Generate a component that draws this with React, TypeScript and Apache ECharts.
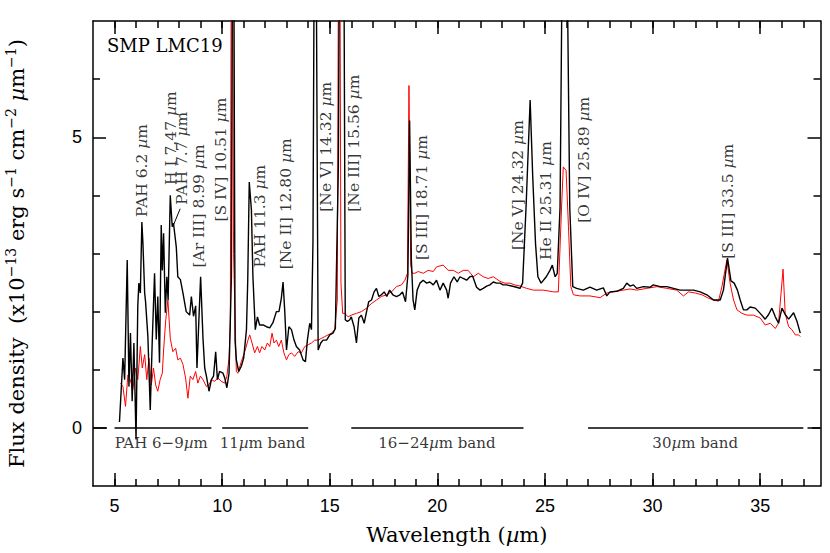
import React, { useEffect, useRef } from 'react';
import * as echarts from 'echarts';

// ---- Data (wavelength in micron, flux density in 1e-13 erg s^-1 cm^-2 um^-1) ----
const blackWave = [5.23,5.39,5.47,5.59,5.67,5.74,5.82,5.9,6.0,6.08,6.13,6.2,6.27,6.32,6.4,6.44,6.55,6.66,6.75,6.86,6.94,7.01,7.09,7.17,7.22,7.28,7.36,7.43,7.49,7.59,7.68,7.74,7.87,7.94,8.06,8.18,8.33,8.49,8.57,8.67,8.77,8.83,8.92,9.0,9.11,9.19,9.27,9.39,9.5,9.6,9.7,9.78,9.88,10.04,10.12,10.22,10.32,10.43,10.51,10.6,10.66,10.77,10.89,11.0,11.13,11.19,11.26,11.36,11.43,11.54,11.64,11.74,11.9,12.06,12.21,12.36,12.52,12.64,12.75,12.83,12.91,12.99,13.1,13.22,13.34,13.45,13.6,13.76,13.87,13.96,14.07,14.15,14.22,14.32,14.46,14.58,14.69,14.85,15.0,15.15,15.26,15.4,15.5,15.62,15.72,15.82,15.93,16.0,16.13,16.24,16.35,16.47,16.6,16.71,16.81,16.94,17.06,17.17,17.28,17.4,17.53,17.65,17.78,17.93,18.1,18.26,18.38,18.52,18.63,18.71,18.79,18.87,18.95,19.06,19.19,19.34,19.5,19.65,19.81,19.96,20.12,20.27,20.43,20.5,20.61,20.77,20.92,21.05,21.2,21.36,21.51,21.64,21.82,21.98,22.13,22.29,22.44,22.6,22.75,22.91,23.06,23.22,23.45,23.68,23.84,23.96,24.12,24.31,24.43,24.56,24.67,24.82,25.06,25.23,25.34,25.47,25.57,25.7,25.82,26.0,26.15,26.29,26.47,26.78,27.09,27.4,27.71,27.87,28.02,28.33,28.64,28.8,28.95,29.11,29.26,29.57,29.88,30.03,30.35,30.66,30.97,31.28,31.59,31.9,32.21,32.52,32.83,33.14,33.29,33.48,33.64,33.79,33.94,34.07,34.22,34.38,34.53,34.77,35.0,35.23,35.39,35.54,35.7,35.85,36.01,36.16,36.32,36.55,36.71,36.86];
const blackFlux = [0.1,1.2,0.83,2.89,0.71,1.63,0.46,1.46,-0.2,2.09,2.49,2.32,3.54,3.17,2.32,2.18,1.57,0.31,1.46,2.66,1.52,2.26,1.12,3.49,2.71,3.35,1.98,2.6,2.2,4.0,3.46,3.52,3.11,2.6,2.55,2.32,2.0,1.94,2.26,1.92,2.1,1.03,1.86,2.6,1.54,1.03,0.89,0.63,0.83,0.89,1.31,0.83,0.97,0.94,0.86,0.69,0.94,2.6,12,1.5,1.17,0.97,1.06,1.2,1.69,2.55,4.23,3.75,2.6,1.69,1.91,1.77,1.77,1.74,1.72,1.81,2.0,2.0,2.23,2.51,2.0,1.34,1.74,1.69,1.51,1.4,1.34,1.17,1.14,1.51,1.8,1.69,3.2,12,1.34,1.46,1.51,1.51,1.6,1.63,1.71,4.5,12,12,1.86,1.83,1.86,1.91,1.74,1.46,1.89,1.94,1.8,2.0,2.17,2.2,2.34,2.4,2.26,2.29,2.34,2.26,2.37,2.29,2.26,2.29,2.34,2.17,2.63,5.29,2.9,2.2,2.03,2.37,2.49,2.54,2.49,2.51,2.46,2.54,2.37,2.49,2.37,2.23,2.49,2.6,2.51,2.6,2.57,2.54,2.6,2.61,2.42,2.37,2.4,2.44,2.46,2.51,2.49,2.49,2.46,2.46,2.44,2.42,2.4,2.49,3.8,5.64,4.32,3.17,2.6,2.49,2.6,2.71,2.8,2.6,2.66,3.8,9,9,3.8,2.43,2.4,2.37,2.42,2.37,2.41,2.27,2.34,2.35,2.4,2.49,2.44,2.46,2.4,2.43,2.42,2.46,2.43,2.43,2.4,2.37,2.37,2.37,2.34,2.29,2.2,2.2,2.37,2.92,2.53,2.49,2.37,2.2,2.03,2.03,2.08,2.06,1.97,1.87,1.95,2.06,1.91,1.8,2.06,1.95,1.87,1.98,1.83,1.63];

const redWave = [5.28,5.39,5.51,5.62,5.73,5.85,5.98,6.08,6.2,6.29,6.4,6.5,6.6,6.71,6.81,6.91,7.01,7.12,7.22,7.28,7.38,7.48,7.59,7.71,7.84,7.94,8.06,8.18,8.3,8.41,8.52,8.64,8.77,8.87,8.99,9.11,9.27,9.39,9.5,9.65,9.8,9.96,10.12,10.22,10.32,10.38,10.45,10.53,10.66,10.73,10.89,11.05,11.2,11.28,11.39,11.51,11.64,11.74,11.85,11.98,12.1,12.21,12.32,12.41,12.52,12.63,12.75,12.87,12.99,13.1,13.22,13.37,13.53,13.68,13.84,14.0,14.15,14.3,14.46,14.61,14.77,14.92,15.08,15.23,15.35,15.44,15.52,15.6,15.7,15.85,16.0,16.24,16.47,16.71,16.94,17.17,17.4,17.64,17.87,18.1,18.33,18.49,18.61,18.68,18.76,18.83,18.95,19.11,19.34,19.57,19.81,19.96,20.27,20.5,20.74,20.97,21.2,21.43,21.67,21.9,22.13,22.36,22.6,22.91,23.14,23.37,23.6,23.84,24.15,24.46,24.92,25.39,25.62,25.77,25.85,25.98,26.09,26.2,26.32,26.63,27.09,27.56,27.87,28.18,28.64,28.95,29.26,29.73,30.2,30.66,31.12,31.43,31.67,31.98,32.29,32.6,32.83,33.06,33.22,33.45,33.6,33.76,33.92,34.15,34.38,34.69,35.0,35.23,35.47,35.7,35.85,36.06,36.16,36.32,36.47,36.63,36.78,36.86];
const redFlux = [0.77,0.71,0.37,0.91,0.83,0.66,1.03,0.83,1.4,1.03,1.26,0.83,1.2,0.74,1.03,0.74,0.63,0.83,0.94,1.34,1.86,2.2,1.54,1.31,1.37,1.17,1.2,1.09,0.86,0.51,0.89,0.83,0.97,0.77,0.89,0.83,0.71,0.74,0.83,0.8,0.86,0.8,0.77,0.89,1.2,1.8,12,3,0.97,0.94,1.14,1.31,1.51,1.6,1.46,1.29,1.4,1.29,1.4,1.34,1.46,1.4,1.63,1.46,1.51,1.4,1.51,1.29,1.17,1.26,1.29,1.23,1.31,1.29,1.4,1.43,1.46,1.51,1.51,1.54,1.57,1.6,1.63,1.69,2.2,12,2.5,1.97,1.97,1.91,1.94,1.97,2.0,2.06,2.14,2.2,2.26,2.29,2.34,2.43,2.46,2.54,2.66,5.89,2.8,2.66,2.66,2.69,2.66,2.71,2.69,2.77,2.8,2.71,2.71,2.66,2.71,2.71,2.6,2.66,2.6,2.57,2.6,2.52,2.49,2.49,2.46,2.44,2.4,2.37,2.37,2.34,2.34,3.8,4.49,4.43,3.46,2.43,2.29,2.27,2.27,2.24,2.32,2.34,2.37,2.39,2.37,2.4,2.43,2.4,2.37,2.27,2.34,2.32,2.29,2.23,2.2,2.18,2.43,2.89,2.49,2.2,2.03,1.97,1.94,1.94,1.89,1.77,1.8,1.71,1.8,2.73,1.97,1.74,1.69,1.6,1.6,1.57];

// Axis ticks
const xMajor = [5, 10, 15, 20, 25, 30, 35];
const xMinor = [5,6,7,8,9,10,11,12,13,14,15,16,17,18,19,20,21,22,23,24,25,26,27,28,29,30,31,32,33,34,35,36,37];
const yMajor = [0, 5];
const yMinor = [1, 2, 3, 4, 6];

// Spectral feature labels
const lineLabels = ['PAH 6.2 µm','H I 7.47 µm','PAH 7.7 µm','[Ar III] 8.99 µm','[S IV] 10.51 µm','PAH 11.3 µm','[Ne II] 12.80 µm','[Ne V] 14.32 µm','[Ne III] 15.56 µm','[S III] 18.71 µm','[Ne V] 24.32 µm','He II 25.31 µm','[O IV] 25.89 µm','[S III] 33.5 µm'];
const lineLabelX = [6.28, 7.64, 8.14, 8.93, 9.98, 11.79, 13.0, 14.86, 16.16, 19.33, 23.77, 25.07, 26.84, 33.51];
const lineLabelY = [3.62, 4.17, 3.83, 2.75, 3.54, 2.75, 2.72, 3.71, 3.71, 2.88, 3.05, 2.88, 3.52, 2.9];
const leaderX = [8.05, 7.75];
const leaderY = [3.77, 3.5];

// Bands along zero
const bandLabels = ['PAH 6−9µm', '11µm band', '16−24µm band', '30µm band'];
const bandCenter = [7.19, 11.9, 20.0, 32.0];
const bandStart = [4.0, 5.0, 10.0, 16.0, 27.0, 37.4];
const bandEnd = [4.65, 9.5, 14.0, 24.0, 37.0, 37.8];
const bandLabelY = -0.27;

const serif = 'DejaVu Serif';
const sans = 'Liberation Sans';

const withMu = (s: string) => s.replace('µ', '{mu|µ}');

export default function App() {
  const ref = useRef<HTMLDivElement>(null);
  useEffect(() => {
    const chart = echarts.init(ref.current!, null, { renderer: 'svg' });
    const axisLine = { show: true, onZero: false, lineStyle: { color: '#000', width: 1.5 } };
    const tickStyle = { color: '#000', width: 1.5 };
    const xBase = { type: 'value', min: 4, max: 37.8, splitLine: { show: false } };
    const yBase = { type: 'value', min: -1, max: 7, splitLine: { show: false } };
    const labelRich = { mu: { fontFamily: serif, fontStyle: 'italic', fontSize: 15.5, color: '#000' } };
    chart.setOption({
      animation: false,
      backgroundColor: '#fff',
      grid: { left: 93, right: 9.5, top: 21, bottom: 67, containLabel: false, outerBoundsMode: 'none' },
      xAxis: [
        {
          ...xBase, position: 'bottom', axisLine,
          axisTick: { show: true, inside: true, length: 13, customValues: xMajor, lineStyle: tickStyle },
          axisLabel: { show: true, customValues: xMajor, color: '#000', fontFamily: sans, fontSize: 18, margin: 11 },
          name: '{t|Wavelength (}{mu|µ}{t|m)}', nameLocation: 'middle', nameGap: 38,
          nameTextStyle: {
            fontFamily: serif, fontSize: 21, color: '#000',
            rich: { t: { fontFamily: serif, fontSize: 21, color: '#000' }, mu: { fontFamily: serif, fontStyle: 'italic', fontSize: 21, color: '#000' } },
          },
        },
        {
          ...xBase, position: 'bottom', axisLine: { show: false, onZero: false },
          axisTick: { show: true, inside: true, length: 7, customValues: xMinor, lineStyle: tickStyle },
          axisLabel: { show: false },
        },
        {
          ...xBase, position: 'top', axisLine,
          axisTick: { show: true, inside: true, length: 13, customValues: xMajor, lineStyle: tickStyle },
          axisLabel: { show: false },
        },
        {
          ...xBase, position: 'top', axisLine: { show: false, onZero: false },
          axisTick: { show: true, inside: true, length: 7, customValues: xMinor, lineStyle: tickStyle },
          axisLabel: { show: false },
        },
      ],
      yAxis: [
        {
          ...yBase, position: 'left', axisLine,
          axisTick: { show: true, inside: true, length: 13, customValues: yMajor, lineStyle: tickStyle },
          axisLabel: { show: true, customValues: yMajor, color: '#000', fontFamily: sans, fontSize: 18, margin: 11 },
          name: '{t|Flux density  (x10}{sup|−13}{t| erg s}{sup|−1}{t| cm}{sup|−2}{t| }{mu|µ}{t|m}{sup|−1}{t|)}',
          nameLocation: 'middle', nameGap: 63,
          nameTextStyle: {
            fontFamily: serif, fontSize: 21, color: '#000',
            rich: {
              t: { fontFamily: serif, fontSize: 21, color: '#000', lineHeight: 26 },
              mu: { fontFamily: serif, fontStyle: 'italic', fontSize: 21, color: '#000', lineHeight: 26 },
              sup: { fontFamily: serif, fontSize: 14, color: '#000', verticalAlign: 'top', lineHeight: 14 },
            },
          },
        },
        {
          ...yBase, position: 'left', axisLine: { show: false, onZero: false },
          axisTick: { show: true, inside: true, length: 7, customValues: yMinor, lineStyle: tickStyle },
          axisLabel: { show: false },
        },
        {
          ...yBase, position: 'right', axisLine,
          axisTick: { show: true, inside: true, length: 13, customValues: yMajor, lineStyle: tickStyle },
          axisLabel: { show: false },
        },
        {
          ...yBase, position: 'right', axisLine: { show: false, onZero: false },
          axisTick: { show: true, inside: true, length: 7, customValues: yMinor, lineStyle: tickStyle },
          axisLabel: { show: false },
        },
      ],
      graphic: [
        {
          type: 'text', left: 107, top: 36, z: 100,
          style: { text: 'SMP LMC19', fontFamily: serif, fontSize: 18, fill: '#000' },
        },
      ],
      series: [
        {
          type: 'line', name: 'comparison', xAxisIndex: 0, yAxisIndex: 0,
          data: redWave.map((w, i) => [w, redFlux[i]]),
          showSymbol: false, symbol: 'none', clip: true,
          lineStyle: { color: '#ff0000', width: 1 }, z: 2,
        },
        {
          type: 'line', name: 'SMP LMC19', xAxisIndex: 0, yAxisIndex: 0,
          data: blackWave.map((w, i) => [w, blackFlux[i]]),
          showSymbol: false, symbol: 'none', clip: true,
          lineStyle: { color: '#000', width: 1.4 }, z: 3,
        },
        {
          type: 'line', name: 'bands', xAxisIndex: 0, yAxisIndex: 0, data: [],
          markLine: {
            silent: true, symbol: ['none', 'none'], animation: false,
            label: { show: false },
            lineStyle: { color: '#000', width: 1.5, type: 'solid' },
            data: bandStart.map((s, i) => [{ coord: [s, 0] }, { coord: [bandEnd[i], 0] }]),
          },
        },
        {
          type: 'line', name: 'leader', xAxisIndex: 0, yAxisIndex: 0,
          data: leaderX.map((x, i) => [x, leaderY[i]]),
          showSymbol: false, symbol: 'none', lineStyle: { color: '#000', width: 1 }, z: 4,
        },
        {
          type: 'scatter', name: 'bandLabels', xAxisIndex: 0, yAxisIndex: 0,
          symbolSize: 1, itemStyle: { color: 'rgba(0,0,0,0)' }, z: 5,
          data: bandCenter.map((x, i) => ({ value: [x, bandLabelY], name: bandLabels[i] })),
          label: {
            show: true, position: [0, 0], align: 'center', verticalAlign: 'middle',
            formatter: (p: any) => withMu(p.name),
            fontFamily: serif, fontSize: 15, color: '#000',
            rich: { mu: { fontFamily: serif, fontStyle: 'italic', fontSize: 15, color: '#000' } },
          },
        },
        {
          type: 'scatter', name: 'lineLabels', xAxisIndex: 0, yAxisIndex: 0,
          symbolSize: 1, itemStyle: { color: 'rgba(0,0,0,0)' }, z: 5,
          data: lineLabelX.map((x, i) => ({ value: [x, lineLabelY[i]], name: lineLabels[i] })),
          label: {
            show: true, position: [0, 0], rotate: 90, align: 'left', verticalAlign: 'middle',
            formatter: (p: any) => withMu(p.name),
            fontFamily: serif, fontSize: 15.5, color: '#000',
            rich: labelRich,
          },
        },
      ],
    });
    return () => chart.dispose();
  }, []);
  return <div ref={ref} style={{ position: 'absolute', left: 0, top: 0, width: 830, height: 553, background: '#fff' }} />;
}
